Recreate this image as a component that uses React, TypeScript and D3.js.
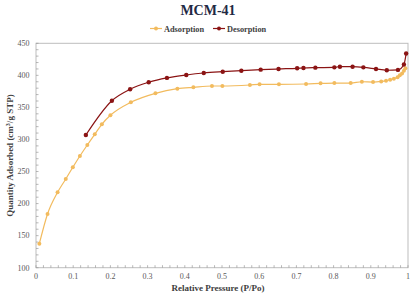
import React from "react";
import * as d3 from "d3";

const adsP = [0.009,0.031,0.058,0.080,0.099,0.118,0.138,0.158,0.177,0.200,0.255,0.321,0.380,0.423,0.473,0.501,0.575,0.601,0.653,0.726,0.765,0.802,0.846,0.876,0.906,0.928,0.941,0.952,0.962,0.972,0.978,0.984,0.989,0.993];
const adsQ = [137.4,183.8,217.6,238.4,256.6,274.2,291.4,308,323.7,337.7,358,372,379.2,381.4,383.4,383.4,385,386,386,386.5,387.5,388,388,390,389.5,390.5,391.7,393.3,394.8,397,400,403,407,411];
const desP = [0.134,0.204,0.253,0.303,0.352,0.404,0.451,0.502,0.552,0.604,0.652,0.702,0.719,0.751,0.802,0.817,0.851,0.880,0.914,0.943,0.973,0.989,0.995];
const desQ = [307,360.5,378.3,389.2,396,400.6,403.7,405.7,407.3,408.9,410,411,411.5,412,412.5,413.5,413.5,412.5,410,408,408.5,417,434];
const xTicks = [0,0.1,0.2,0.3,0.4,0.5,0.6,0.7,0.8,0.9,1];
const yTicks = [100,150,200,250,300,350,400,450];
const seriesNames = ["Adsorption", "Desorption"];
const colors = ["#f2bb5e", "#8b1414"];

const W = 418, H = 295;
const L = 36, R = 408, T = 43.3, B = 267.7;
const serif = "'Liberation Serif', 'DejaVu Serif', serif";

export default function App() {
  const x = d3.scaleLinear().domain([0, 1]).range([L, R]);
  const y = d3.scaleLinear().domain([100, 450]).range([B, T]);
  const line = d3.line<[number, number]>().x(d => x(d[0])).y(d => y(d[1])).curve(d3.curveMonotoneX);
  const ads: [number, number][] = adsP.map((p, i) => [p, adsQ[i]]);
  const des: [number, number][] = desP.map((p, i) => [p, desQ[i]]);
  const xMinor = d3.range(0, 1.0001, 0.02);
  const yMinor = d3.range(100, 450.001, 10);
  const series = [ads, des];
  const legendX = [150, 213];
  return (
    <svg width={W} height={H} style={{ position: "absolute", left: 0, top: 0, background: "#fff" }}>
      <text x={208} y={15} textAnchor="middle" fontFamily={serif} fontWeight="bold" fontSize={14} fill="#1f2a44">MCM-41</text>
      {seriesNames.map((n, i) => (
        <g key={n}>
          <line x1={legendX[i]} x2={legendX[i] + 12} y1={28.5} y2={28.5} stroke={colors[i]} strokeWidth={1.2} />
          <circle cx={legendX[i] + 6} cy={28.5} r={2} fill={colors[i]} />
          <text x={legendX[i] + 14} y={31.5} fontFamily={serif} fontWeight="bold" fontSize={8.3} fill="#404040">{n}</text>
        </g>
      ))}
      <rect x={L} y={T} width={R - L} height={B - T} fill="none" stroke="#bdbdbd" strokeWidth={1} />
      {xMinor.map((v, i) => (
        <line key={"xm" + i} x1={x(v)} x2={x(v)} y1={B} y2={B - 2.5} stroke="#9a9a9a" strokeWidth={0.7} />
      ))}
      {yMinor.map((v, i) => (
        <line key={"ym" + i} x1={L} x2={L + 2.5} y1={y(v)} y2={y(v)} stroke="#9a9a9a" strokeWidth={0.7} />
      ))}
      {xTicks.map(v => (
        <text key={"xt" + v} x={x(v)} y={279} textAnchor="middle" fontFamily={serif} fontSize={8} fill="#595959">{v}</text>
      ))}
      {yTicks.map(v => (
        <text key={"yt" + v} x={29.5} y={y(v) + 2.8} textAnchor="end" fontFamily={serif} fontSize={8} fill="#595959">{v}</text>
      ))}
      <text x={218} y={291} textAnchor="middle" fontFamily={serif} fontWeight="bold" fontSize={9} fill="#404040">Relative Pressure (P/Po)</text>
      <text transform={`translate(13,${(T + B) / 2}) rotate(-90)`} textAnchor="middle" fontFamily={serif} fontWeight="bold" fontSize={9} fill="#404040">
        Quantity Adsorbed (cm<tspan dy={-3} fontSize={6}>3</tspan><tspan dy={3}>/g STP)</tspan>
      </text>
      {series.map((s, i) => (
        <g key={"s" + i}>
          <path d={line(s) || ""} fill="none" stroke={colors[i]} strokeWidth={1.2} />
          {s.map((d, j) => (
            <circle key={j} cx={x(d[0])} cy={y(d[1])} r={i === 0 ? 2 : 2.2} fill={colors[i]} />
          ))}
        </g>
      ))}
    </svg>
  );
}
